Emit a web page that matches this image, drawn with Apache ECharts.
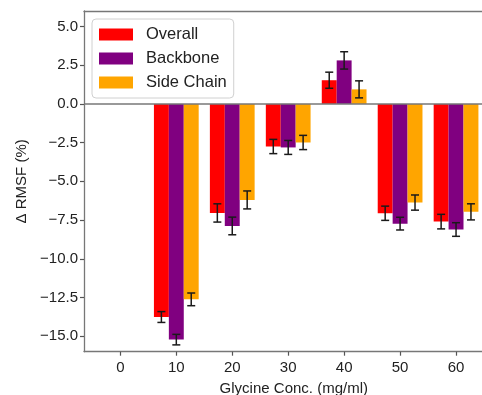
<!DOCTYPE html>
<html>
<head>
<meta charset="utf-8">
<style>
  html, body { margin: 0; padding: 0; background: #fff; overflow: hidden; width: 482px; height: 395px; }
  /* the plot area runs past the right edge of the window */
  #chart { width: 510px; height: 395px; }
</style>
<script src="https://cdn.jsdelivr.net/npm/echarts@6/dist/echarts.min.js"></script>
</head>
<body>
<div id="chart"></div>
<script>
// Glycine concentrations (mg/ml) shown on the x axis, and those that have bars
const tickConcs = [0, 10, 20, 30, 40, 50, 60];
const concs = [10, 20, 30, 40, 50, 60];

// Change in RMSF (%) per group, with standard errors
const overall = [-13.76, -7.04, -2.75, 1.53, -7.06, -7.60];
const overallErr = [0.35, 0.59, 0.46, 0.52, 0.46, 0.47];
const backbone = [-15.22, -7.88, -2.81, 2.81, -7.73, -8.11];
const backboneErr = [0.34, 0.57, 0.45, 0.56, 0.41, 0.44];
const sideChain = [-12.62, -6.20, -2.49, 0.94, -6.37, -6.97];
const sideChainErr = [0.41, 0.58, 0.46, 0.55, 0.49, 0.52];

const yTicks = [-15, -12.5, -10, -7.5, -5, -2.5, 0, 2.5, 5];

const groups = [
  { name: 'Overall', color: '#ff0000', values: overall, errs: overallErr, slot: -1 },
  { name: 'Backbone', color: '#800080', values: backbone, errs: backboneErr, slot: 0 },
  { name: 'Side Chain', color: '#ffa500', values: sideChain, errs: sideChainErr, slot: 1 }
];

const BAR_W = 8 / 3;   // bar width in x-axis units
const FONT = '"Liberation Sans", Arial, sans-serif';
const SPINE = { color: '#777', width: 1.3 };
const ERR_STYLE = { stroke: '#1a1a1a', lineWidth: 1.5 };
const CAP = 4;         // half-width of error-bar caps, px

// one bar plus its error bar per data item
function barSeries(g) {
  return {
    name: g.name,
    type: 'custom',
    itemStyle: { color: g.color },
    data: concs.map((c, i) => [c, g.values[i], g.errs[i]]),
    renderItem: function (params, api) {
      const x = api.value(0) + g.slot * BAR_W;
      const v = api.value(1), e = api.value(2);
      const p0 = api.coord([x - BAR_W / 2, 0]);
      const p1 = api.coord([x + BAR_W / 2, v]);
      const top = api.coord([x, v + e]);
      const bot = api.coord([x, v - e]);
      return {
        type: 'group',
        children: [
          {
            type: 'rect',
            shape: {
              x: p0[0], y: Math.min(p0[1], p1[1]),
              width: p1[0] - p0[0], height: Math.abs(p1[1] - p0[1])
            },
            style: { fill: g.color }
          },
          { type: 'line', z2: 5, shape: { x1: top[0], y1: top[1], x2: bot[0], y2: bot[1] }, style: ERR_STYLE },
          { type: 'line', z2: 5, shape: { x1: top[0] - CAP, y1: top[1], x2: top[0] + CAP, y2: top[1] }, style: ERR_STYLE },
          { type: 'line', z2: 5, shape: { x1: bot[0] - CAP, y1: bot[1], x2: bot[0] + CAP, y2: bot[1] }, style: ERR_STYLE }
        ]
      };
    },
    z: 2
  };
}

const chart = echarts.init(document.getElementById('chart'));
const series = groups.map(barSeries);
// error bars sit above every bar
series.forEach((s, i) => { s.z = 2 + i * 0.1; });

// horizontal reference line at zero
series[0].markLine = {
  silent: true,
  symbol: 'none',
  label: { show: false },
  lineStyle: { color: '#777', width: 1.5, type: 'solid' },
  data: [{ yAxis: 0 }],
  z: 3
};

chart.setOption({
  animation: false,
  textStyle: { fontFamily: FONT },
  grid: {
    left: 84, top: 11, width: 419.6, height: 340.7,
    outerBoundsMode: 'none', containLabel: false,
    show: false
  },
  legend: {
    orient: 'vertical',
    left: 92, top: 19,
    data: groups.map(g => ({ name: g.name, icon: 'rect' })),
    itemWidth: 34, itemHeight: 12, itemGap: 7,
    padding: [7, 7, 7, 7],
    backgroundColor: '#fff',
    borderColor: '#d0d0d0', borderWidth: 1, borderRadius: 4,
    textStyle: { fontFamily: FONT, fontSize: 16.5, color: '#222', padding: [0, 0, 0, 8] },
    z: 10
  },
  xAxis: [{
    type: 'value',
    position: 'bottom',
    min: -6.5, max: 68.5,
    name: 'Glycine Conc. (mg/ml)',
    nameLocation: 'middle', nameGap: 30,
    nameTextStyle: { fontFamily: FONT, fontSize: 15, color: '#222' },
    axisLine: { show: true, onZero: false, lineStyle: SPINE },
    splitLine: { show: false },
    axisTick: { show: true, customValues: tickConcs, length: 4, lineStyle: { color: '#555', width: 1.2 } },
    axisLabel: { customValues: tickConcs, fontFamily: FONT, fontSize: 15, color: '#222', margin: 9 }
  }, {
    // top spine only
    type: 'value',
    position: 'top',
    min: -6.5, max: 68.5,
    axisLine: { show: true, onZero: false, lineStyle: SPINE },
    axisTick: { show: false },
    axisLabel: { show: false },
    splitLine: { show: false }
  }],
  yAxis: {
    type: 'value',
    min: -16, max: 6,
    name: 'Δ RMSF (%)',
    nameLocation: 'middle', nameGap: 53, nameRotate: 90,
    nameTextStyle: { fontFamily: FONT, fontSize: 15, color: '#222' },
    axisLine: { show: true, onZero: false, lineStyle: SPINE },
    splitLine: { show: false },
    axisTick: { show: true, customValues: yTicks, length: 4, lineStyle: { color: '#555', width: 1.2 } },
    axisLabel: {
      customValues: yTicks, fontFamily: FONT, fontSize: 15, color: '#222', margin: 6,
      formatter: v => (v < 0 ? '\u2212' + Math.abs(v).toFixed(1) : v.toFixed(1))
    }
  },
  series: series
});
</script>
</body>
</html>
